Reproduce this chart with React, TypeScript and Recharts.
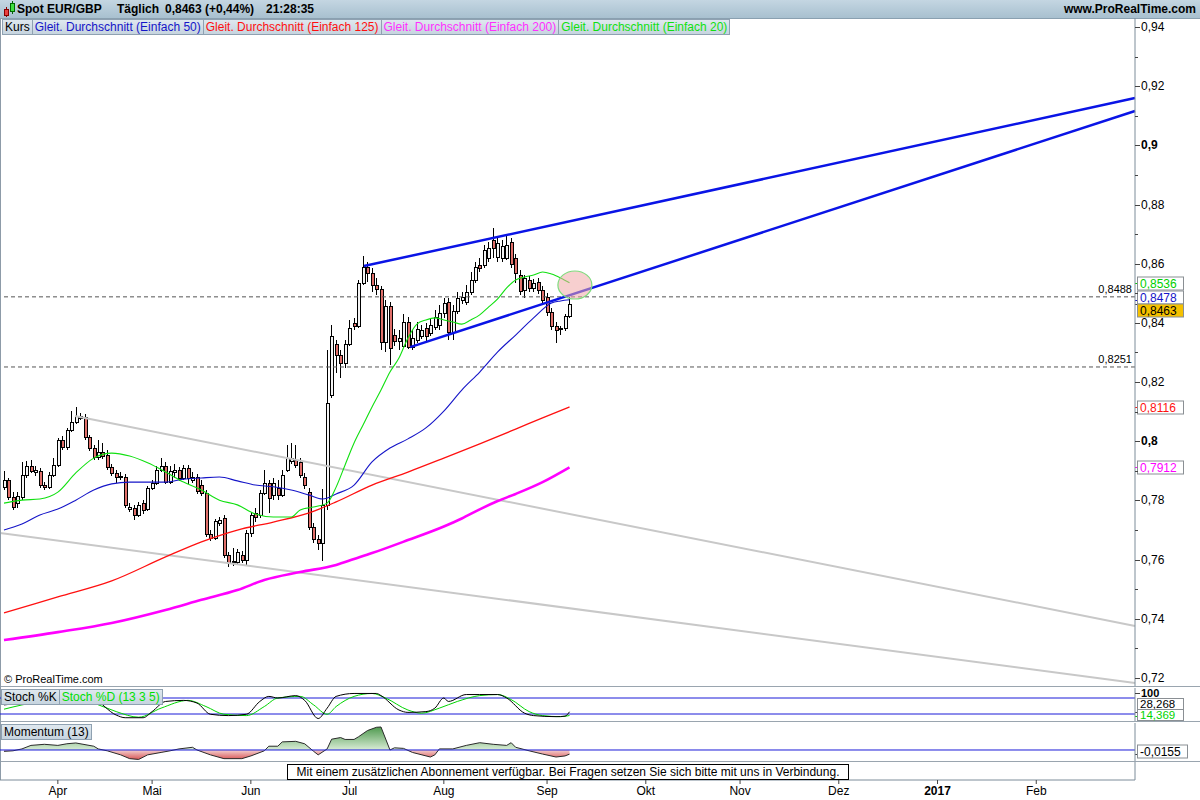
import React from "react";
import {
  Area,
  Bar,
  ComposedChart,
  Line,
  ReferenceDot,
  ReferenceLine,
  XAxis,
  YAxis,
} from "recharts";

// daily candles, index 0 = mid March 2016, index 126 = 8 Sep 2016
const opens = [
  0.7846, 0.7869, 0.7812, 0.779, 0.7812, 0.7886, 0.7917, 0.7897, 0.79, 0.7852,
  0.7846, 0.7886, 0.792, 0.8004, 0.798, 0.8038, 0.8065, 0.8085, 0.8082, 0.8014,
  0.7977, 0.7947, 0.7964, 0.7954, 0.7913, 0.7893, 0.788, 0.788, 0.7771, 0.7775,
  0.7751, 0.7791, 0.7771, 0.7842, 0.7859, 0.7903, 0.7917, 0.7862, 0.7897, 0.7903,
  0.7876, 0.791, 0.7869, 0.788, 0.7852, 0.7825, 0.7687, 0.7673, 0.7724, 0.7741,
  0.7616, 0.7592, 0.7592, 0.7616, 0.7599, 0.769, 0.7758, 0.7751, 0.7825, 0.7859,
  0.7818, 0.7842, 0.7818, 0.7903, 0.7933, 0.7937, 0.793, 0.788, 0.7828, 0.771,
  0.767, 0.7656, 0.7785, 0.8156, 0.8329, 0.8292, 0.8265, 0.8329, 0.84, 0.839,
  0.8535, 0.8589, 0.8569, 0.8528, 0.8515, 0.8335, 0.8457, 0.8359, 0.8339, 0.8322,
  0.8403, 0.8318, 0.8342, 0.8356, 0.8383, 0.8366, 0.8386, 0.8393, 0.8434, 0.8471,
  0.8369, 0.844, 0.8477, 0.8471, 0.8504, 0.8545, 0.8596, 0.8596, 0.8619, 0.868,
  0.8623, 0.8619, 0.8619, 0.8673, 0.8619, 0.8562, 0.8511, 0.8545, 0.8518, 0.8538,
  0.8511, 0.8487, 0.8437, 0.839, 0.8383, 0.8383, 0.8423,
];
const highs = [
  0.79, 0.7876, 0.7829, 0.7829, 0.793, 0.7934, 0.7937, 0.7917, 0.791, 0.7862,
  0.7896, 0.7944, 0.8011, 0.8018, 0.8045, 0.8102, 0.8116, 0.8096, 0.8092, 0.8021,
  0.7987, 0.8004, 0.7994, 0.797, 0.7923, 0.7903, 0.7896, 0.7889, 0.7791, 0.7785,
  0.7795, 0.7801, 0.7849, 0.7869, 0.7917, 0.7944, 0.793, 0.7917, 0.7923, 0.7913,
  0.792, 0.792, 0.7896, 0.7889, 0.7869, 0.7835, 0.77, 0.7737, 0.7744, 0.7751,
  0.7626, 0.7639, 0.7636, 0.7629, 0.77, 0.7761, 0.7774, 0.7835, 0.7903, 0.7869,
  0.7876, 0.7869, 0.7903, 0.7987, 0.7994, 0.7987, 0.7944, 0.7893, 0.7842, 0.7724,
  0.7683, 0.784, 0.831, 0.8393, 0.8342, 0.8308, 0.8342, 0.841, 0.8417, 0.8545,
  0.8626, 0.8606, 0.8586, 0.8552, 0.8525, 0.8477, 0.8471, 0.838, 0.8376, 0.843,
  0.842, 0.8376, 0.8403, 0.8393, 0.84, 0.8417, 0.8444, 0.846, 0.8484, 0.8484,
  0.846, 0.8504, 0.8504, 0.8528, 0.8572, 0.8606, 0.8619, 0.8663, 0.8673, 0.8721,
  0.8687, 0.868, 0.8694, 0.8687, 0.8633, 0.8579, 0.8562, 0.8559, 0.8548, 0.8552,
  0.8525, 0.8501, 0.845, 0.8403, 0.839, 0.843, 0.8488,
];
const lows = [
  0.7835, 0.7801, 0.7768, 0.7775, 0.7801, 0.7876, 0.7893, 0.7883, 0.7842, 0.7835,
  0.7839, 0.7879, 0.7913, 0.797, 0.797, 0.8031, 0.8058, 0.8072, 0.8004, 0.7967,
  0.7937, 0.7937, 0.794, 0.7903, 0.7883, 0.7859, 0.7869, 0.7775, 0.7761, 0.7734,
  0.7744, 0.7754, 0.7764, 0.7835, 0.7852, 0.7896, 0.7856, 0.7856, 0.7876, 0.7866,
  0.7869, 0.7856, 0.7859, 0.7822, 0.7815, 0.7676, 0.7663, 0.7666, 0.7714, 0.7605,
  0.7575, 0.7579, 0.7582, 0.7589, 0.7582, 0.7676, 0.7727, 0.7741, 0.7818, 0.7758,
  0.7801, 0.7801, 0.7812, 0.7896, 0.7923, 0.791, 0.7876, 0.7839, 0.77, 0.7656,
  0.7632, 0.7595, 0.7768, 0.8146, 0.8231, 0.8214, 0.8248, 0.8322, 0.8376, 0.8383,
  0.8528, 0.8538, 0.8504, 0.8494, 0.8308, 0.8302, 0.8258, 0.8322, 0.8308, 0.8315,
  0.8312, 0.8308, 0.8332, 0.8346, 0.8339, 0.8356, 0.8376, 0.8376, 0.8417, 0.8342,
  0.8342, 0.843, 0.8464, 0.846, 0.8494, 0.8535, 0.8572, 0.8586, 0.8606, 0.8619,
  0.8606, 0.8606, 0.8613, 0.8586, 0.8535, 0.8494, 0.8484, 0.8504, 0.8504, 0.8498,
  0.8467, 0.8423, 0.8376, 0.8332, 0.8359, 0.8373, 0.8417,
];
const closes = [
  0.7869, 0.7812, 0.7778, 0.7815, 0.7886, 0.7917, 0.79, 0.7903, 0.7852, 0.7846,
  0.7886, 0.792, 0.8004, 0.798, 0.8038, 0.8065, 0.8085, 0.8079, 0.8014, 0.7977,
  0.7947, 0.7964, 0.795, 0.7913, 0.7893, 0.788, 0.7883, 0.7785, 0.7778, 0.7751,
  0.7785, 0.7768, 0.7842, 0.7859, 0.7903, 0.7917, 0.7862, 0.79, 0.7903, 0.7876,
  0.791, 0.7876, 0.788, 0.7832, 0.7825, 0.7687, 0.7673, 0.773, 0.7734, 0.7616,
  0.7589, 0.7595, 0.7626, 0.7599, 0.769, 0.7751, 0.7744, 0.7825, 0.7859, 0.7808,
  0.7859, 0.7818, 0.7886, 0.7944, 0.7944, 0.792, 0.7886, 0.7852, 0.771, 0.767,
  0.7656, 0.7785, 0.8129, 0.8356, 0.8292, 0.8265, 0.8329, 0.8383, 0.839, 0.8535,
  0.8589, 0.8569, 0.8528, 0.8515, 0.8335, 0.8457, 0.8315, 0.8339, 0.835, 0.8403,
  0.8318, 0.8349, 0.8379, 0.8376, 0.8356, 0.8393, 0.842, 0.8434, 0.8467, 0.8369,
  0.844, 0.8484, 0.8487, 0.8504, 0.8545, 0.8589, 0.8586, 0.8646, 0.8653, 0.8653,
  0.867, 0.866, 0.8663, 0.8599, 0.8569, 0.8508, 0.8552, 0.8518, 0.8535, 0.8511,
  0.8477, 0.8437, 0.839, 0.8376, 0.8378, 0.8423, 0.8463,
];

// moving averages: [bar index, value]
const ma20 = [
  [0, 0.7791], [4, 0.7801], [8, 0.7805], [12, 0.7828], [16, 0.7893], [20, 0.7943],
  [24, 0.796], [28, 0.795], [32, 0.7927], [36, 0.7896], [40, 0.7862], [44, 0.7835],
  [48, 0.7801], [52, 0.7785], [56, 0.7754], [60, 0.7744], [64, 0.7744], [66, 0.7768],
  [70, 0.7781], [72, 0.7791], [74, 0.7845], [76, 0.792], [78, 0.7994], [80, 0.8055],
  [82, 0.8116], [84, 0.8173], [86, 0.8234], [88, 0.8281], [90, 0.8349], [92, 0.8396],
  [94, 0.841], [96, 0.8417], [98, 0.841], [100, 0.8403], [102, 0.8396], [104, 0.841],
  [106, 0.8427], [108, 0.8454], [110, 0.8481], [112, 0.8518], [114, 0.8545],
  [116, 0.8555], [118, 0.8562], [120, 0.8572], [122, 0.8565], [124, 0.8552], [126, 0.8536],
];
const ma50 = [
  [0, 0.77], [4, 0.772], [8, 0.7751], [12, 0.7771], [16, 0.7801], [20, 0.7835],
  [24, 0.7856], [28, 0.7862], [32, 0.7862], [36, 0.7862], [40, 0.7872], [44, 0.7876],
  [48, 0.7879], [52, 0.7866], [56, 0.7852], [60, 0.7846], [64, 0.7835], [68, 0.7818],
  [71, 0.7805], [74, 0.7822], [78, 0.7852], [82, 0.793], [86, 0.7977], [90, 0.8008],
  [94, 0.8045], [98, 0.8102], [102, 0.8173], [106, 0.8234], [110, 0.8302],
  [114, 0.8359], [118, 0.8417], [122, 0.8467], [124, 0.8474], [126, 0.8478],
];
const ma125 = [
  [0, 0.742], [12, 0.7474], [24, 0.7528], [36, 0.7609], [44, 0.766], [52, 0.77],
  [60, 0.7727], [68, 0.7758], [74, 0.7795], [82, 0.7852], [90, 0.7896], [98, 0.7943],
  [106, 0.7991], [114, 0.8041], [120, 0.8079], [126, 0.8116],
];
const ma200 = [
  [0, 0.7328], [12, 0.7355], [24, 0.7386], [36, 0.743], [44, 0.7464], [52, 0.7497],
  [58, 0.7531], [66, 0.7558], [74, 0.7582], [78, 0.7602], [82, 0.7622], [90, 0.7666],
  [98, 0.7712], [102, 0.7739], [106, 0.777], [110, 0.7798], [114, 0.7822],
  [120, 0.7862], [126, 0.7912],
];

const stochK = [
  [0, 54], [4, 62], [9, 76], [14, 84], [17, 80], [20, 74], [25, 16], [27, 6], [31, 6],
  [33, 29], [36, 67], [40, 71], [43, 61], [46, 19], [50, 14], [54, 19], [57, 67],
  [59, 86], [61, 80], [65, 89], [67, 71], [70, 3], [72, 42], [74, 86], [78, 97],
  [83, 97], [84, 89], [88, 35], [90, 26], [94, 29], [96, 42], [98, 80], [99, 67],
  [103, 93], [106, 93], [110, 93], [112, 80], [116, 23], [118, 14], [123, 10],
  [125, 12], [126, 28.27],
];
const stochD = [
  [0, 38], [4, 54], [12, 76], [16, 80], [20, 61], [25, 29], [30, 8], [35, 42],
  [41, 71], [45, 48], [49, 19], [54, 14], [58, 48], [61, 80], [66, 86], [69, 54],
  [72, 19], [74, 48], [78, 86], [82, 97], [85, 80], [90, 35], [93, 23], [97, 42],
  [101, 67], [106, 89], [110, 93], [113, 74], [117, 29], [120, 14], [124, 10], [126, 14.37],
];
const momentum = [
  [0, -0.005], [2, -0.003], [4, 0.004], [6, 0.017], [9, 0.021], [12, 0.017],
  [14, 0.023], [16, 0.026], [20, 0.014], [21, 0.004], [23, -0.003], [26, -0.018],
  [28, -0.032], [30, -0.035], [32, -0.018], [35, -0.009], [37, -0.003], [39, 0.004],
  [42, 0.01], [43, 0], [46, -0.018], [49, -0.032], [53, -0.032], [55, -0.022],
  [58, -0.003], [59, 0.014], [61, 0.014], [62, 0.03], [65, 0.032], [67, 0.023],
  [69, -0.005], [70, -0.018], [72, 0.004], [73, 0.04], [75, 0.046], [76, 0.039],
  [78, 0.039], [79, 0.049], [81, 0.072], [83, 0.084], [84, 0.085], [86, 0],
  [87, 0.008], [89, 0.006], [91, -0.009], [95, -0.026], [96, -0.018], [97, 0.004],
  [100, 0.004], [103, 0.017], [106, 0.027], [109, 0.021], [112, 0.017], [113, 0.027],
  [114, 0.01], [117, -0.003], [120, -0.015], [123, -0.026], [125, -0.022], [126, -0.0155],
];

const monthTicks = [12, 33, 55, 77, 98, 121, 143, 164, 186, 208, 230];
const monthLabels = ["Apr", "Mai", "Jun", "Jul", "Aug", "Sep", "Okt", "Nov", "Dez", "2017", "Feb"];
const priceTicks = [
  0.72, 0.73, 0.74, 0.75, 0.76, 0.77, 0.78, 0.79, 0.8, 0.81, 0.82, 0.83, 0.84,
  0.85, 0.86, 0.87, 0.88, 0.89, 0.9, 0.91, 0.92, 0.93, 0.94,
];

const candles = closes.map((c, i) => ({
  i,
  o: opens[i],
  h: highs[i],
  l: lows[i],
  c,
  range: [lows[i], highs[i]],
}));
const pts = (a: number[][]) => a.map(([i, v]) => ({ i, v }));

const X_DOMAIN = [-0.891, 252];
const AXIS_X = 1135;
const FONT = "'Liberation Sans', Arial, sans-serif";
const comma = (v: number) => String(v).replace(".", ",");

const momMax = Math.max(...momentum.map((m) => m[1]));
const momMin = Math.min(...momentum.map((m) => m[1]));
const zeroOff = momMax / (momMax - momMin);

const Candle = (props: any) => {
  const { x, y, width, height, payload } = props;
  if (height == null || !payload) return null;
  const { o, h, l, c } = payload;
  const span = h - l || 1e-9;
  const py = (v: number) => y + ((h - v) / span) * height;
  const r = Math.round(x + width / 2);
  const top = Math.round(py(Math.max(o, c)));
  const bot = Math.round(py(Math.min(o, c)));
  const up = c >= o;
  return (
    <g>
      <line x1={r + 0.5} x2={r + 0.5} y1={Math.round(y)} y2={Math.round(y + height)} stroke="#000" />
      <rect
        x={r - 0.5}
        y={top + 0.5}
        width={3}
        height={Math.max(bot - top, 1)}
        fill={up ? "#f4f4f4" : "#e06f6a"}
        stroke="#000"
      />
    </g>
  );
};

const PriceTick = ({ y, payload }: any) => {
  const v = payload.value;
  const major = Math.round(v * 100) % 2 === 0;
  const bold = Math.abs(v - 0.9) < 1e-6 || Math.abs(v - 0.8) < 1e-6;
  const yy = Math.round(y) + 0.5;
  return (
    <g>
      <line x1={AXIS_X} x2={AXIS_X + (major ? 5 : 3)} y1={yy} y2={yy} stroke="#444" />
      {major && (
        <text x={AXIS_X + 6} y={y + 4} fontSize={12} fontFamily={FONT} fontWeight={bold ? 700 : 400} fill="#000">
          {comma(+v.toFixed(2))}
        </text>
      )}
    </g>
  );
};

const StochTick = ({ y, payload }: any) => (
  <g>
    <line x1={AXIS_X} x2={AXIS_X + 5} y1={Math.round(y) + 0.5} y2={Math.round(y) + 0.5} stroke="#444" />
    <text x={AXIS_X + 6} y={y + 4} fontSize={11} fontWeight={700} fontFamily={FONT} fill="#000">
      {payload.value}
    </text>
  </g>
);

const ValueTag = ({ viewBox, text, color, bg = "#fff", dy = 0, w = 46, h = 13, fs = 12 }: any) => {
  if (!viewBox) return null;
  const x = viewBox.x + viewBox.width;
  const y0 = Math.round(viewBox.y) + 0.5;
  const y = y0 + dy;
  return (
    <g>
      <line x1={x} x2={x + 3} y1={y0} y2={y0} stroke={color === "#000" ? "#444" : color} />
      <rect x={x + 2.5} y={y - h / 2} width={w} height={h} fill={bg} stroke="#8a8f94" />
      <text x={x + 5} y={y + fs * 0.37} fontSize={fs} fontFamily={FONT} fill={color}>
        {text}
      </text>
    </g>
  );
};

const LevelLabel = ({ viewBox, text }: any) => {
  if (!viewBox) return null;
  return (
    <text x={viewBox.x + viewBox.width - 3} y={viewBox.y - 4} textAnchor="end" fontSize={11} fontFamily={FONT} fill="#000">
      {text}
    </text>
  );
};

const MonthTick = ({ x, y, payload }: any) => {
  const k = monthTicks.indexOf(payload.value);
  return (
    <text x={x} y={y + 9} textAnchor="middle" fontSize={12} fontFamily={FONT} fontWeight={monthLabels[k] === "2017" ? 700 : 400} fill="#000">
      {monthLabels[k]}
    </text>
  );
};

const legendBox: React.CSSProperties = {
  border: "1px solid #8fa1b1",
  background: "linear-gradient(#dfe8ef, #c6d4df)",
  padding: "0 2px",
  height: 14,
  lineHeight: "14px",
  marginRight: -1,
};

const App = () => {
  const noLine = { stroke: "none" };
  return (
    <div style={{ position: "relative", width: 1200, height: 800, fontFamily: FONT, background: "#fff", overflow: "hidden" }}>
      <style>{"body{margin:0}"}</style>

      {/* header bar */}
      <div style={{ position: "absolute", left: 0, top: 0, width: 1200, height: 18, background: "linear-gradient(#c4d6e2, #a8c0cf)", borderBottom: "1px solid #8aa0b0", fontSize: 12, fontWeight: 700, lineHeight: "18px", color: "#000" }}>
        <svg width={14} height={18} style={{ position: "absolute", left: 2, top: 0 }}>
          <line x1={4.5} x2={4.5} y1={7} y2={17} stroke="#800" />
          <rect x={2.5} y={9.5} width={4} height={6} fill="#e84040" stroke="#800" />
          <line x1={10.5} x2={10.5} y1={1} y2={14} stroke="#060" />
          <rect x={8.5} y={3.5} width={4} height={8} fill="#40e040" stroke="#060" />
        </svg>
        <span style={{ position: "absolute", left: 17 }}>Spot EUR/GBP</span>
        <span style={{ position: "absolute", left: 117 }}>Täglich</span>
        <span style={{ position: "absolute", left: 165 }}>0,8463 (+0,44%)</span>
        <span style={{ position: "absolute", left: 266 }}>21:28:35</span>
        <span style={{ position: "absolute", right: 4 }}>www.ProRealTime.com</span>
      </div>

      {/* main price panel */}
      <div style={{ position: "absolute", left: 0, top: 18 }}>
        <ComposedChart width={1200} height={669} data={candles} margin={{ top: 0, right: 0, bottom: 0, left: 0 }}>
          <XAxis dataKey="i" type="number" domain={X_DOMAIN} hide allowDataOverflow />
          <YAxis
            orientation="right"
            width={65}
            domain={[0.71695, 0.94304]}
            ticks={priceTicks}
            interval={0}
            tick={<PriceTick />}
            tickLine={false}
            axisLine={{ stroke: "#7d8c99" }}
            allowDataOverflow
          />
          <ReferenceLine segment={[{ x: 15.8, y: 0.8085 }, { x: 252, y: 0.7376 }]} stroke="#c8c8c8" strokeWidth={2} ifOverflow="visible" />
          <ReferenceLine segment={[{ x: -0.891, y: 0.769 }, { x: 252, y: 0.7183 }]} stroke="#c8c8c8" strokeWidth={2} ifOverflow="visible" />
          <ReferenceLine y={0.8488} stroke="#555" strokeDasharray="4 3" label={<LevelLabel text="0,8488" />} />
          <ReferenceLine y={0.8251} stroke="#555" strokeDasharray="4 3" label={<LevelLabel text="0,8251" />} />
          <Bar dataKey="range" barSize={4} shape={<Candle />} isAnimationActive={false} />
          <Line data={pts(ma200)} dataKey="v" type="monotone" stroke="#ff00ff" strokeWidth={2.6} dot={false} isAnimationActive={false} />
          <Line data={pts(ma125)} dataKey="v" type="monotone" stroke="#ff1010" strokeWidth={1.3} dot={false} isAnimationActive={false} />
          <Line data={pts(ma50)} dataKey="v" type="monotone" stroke="#1515c8" strokeWidth={1.1} dot={false} isAnimationActive={false} />
          <Line data={pts(ma20)} dataKey="v" type="monotone" stroke="#10e010" strokeWidth={1.1} dot={false} isAnimationActive={false} />
          <ReferenceLine segment={[{ x: 80.2, y: 0.8592 }, { x: 252, y: 0.916 }]} stroke="#0a14e6" strokeWidth={2.5} ifOverflow="visible" />
          <ReferenceLine segment={[{ x: 90.5, y: 0.8318 }, { x: 252, y: 0.9116 }]} stroke="#0a14e6" strokeWidth={2.5} ifOverflow="visible" />
          <ReferenceDot
            x={127.2}
            y={0.8528}
            r={16}
            isFront
            shape={(p: any) => (
              <ellipse cx={p.cx} cy={p.cy} rx={17} ry={14} fill="#f0a8a8" fillOpacity={0.55} stroke="#7edc7e" strokeWidth={1.2} />
            )}
          />
          <ReferenceLine y={0.8536} {...noLine} label={<ValueTag text="0,8536" color="#00d000" />} />
          <ReferenceLine y={0.8478} {...noLine} label={<ValueTag text="0,8478" color="#1515c8" dy={-3} />} />
          <ReferenceLine y={0.8463} {...noLine} label={<ValueTag text="0,8463" color="#000" bg="#f5c100" dy={6} />} />
          <ReferenceLine y={0.8116} {...noLine} label={<ValueTag text="0,8116" color="#ff1010" />} />
          <ReferenceLine y={0.7912} {...noLine} label={<ValueTag text="0,7912" color="#ff00ff" />} />
        </ComposedChart>
      </div>

      {/* legend row */}
      <div style={{ position: "absolute", left: 2, top: 19, display: "flex", fontSize: 12 }}>
        <div style={{ ...legendBox, color: "#000" }}>Kurs</div>
        <div style={{ ...legendBox, color: "#1515c8" }}>Gleit. Durchschnitt (Einfach 50)</div>
        <div style={{ ...legendBox, color: "#ff1010" }}>Gleit. Durchschnitt (Einfach 125)</div>
        <div style={{ ...legendBox, color: "#ff30ff" }}>Gleit. Durchschnitt (Einfach 200)</div>
        <div style={{ ...legendBox, color: "#10e010" }}>Gleit. Durchschnitt (Einfach 20)</div>
      </div>
      <div style={{ position: "absolute", left: 4, top: 673, fontSize: 11, color: "#000" }}>© ProRealTime.com</div>

      {/* separators */}
      <div style={{ position: "absolute", left: 0, top: 686, width: 1200, height: 1, background: "#9aa5af" }} />
      <div style={{ position: "absolute", left: 0, top: 721, width: 1200, height: 1, background: "#9aa5af" }} />
      <div style={{ position: "absolute", left: 0, top: 761, width: 1200, height: 1, background: "#9aa5af" }} />
      <div style={{ position: "absolute", left: 0, top: 18, width: 1, height: 762, background: "#8d9ba8" }} />

      {/* stochastic panel */}
      <div style={{ position: "absolute", left: 0, top: 688 }}>
        <ComposedChart width={1200} height={33} margin={{ top: 0, right: 0, bottom: 0, left: 0 }}>
          <XAxis dataKey="i" type="number" domain={X_DOMAIN} hide allowDataOverflow />
          <YAxis
            orientation="right"
            width={65}
            domain={[-6.25, 117.5]}
            ticks={[100]}
            interval={0}
            tick={<StochTick />}
            tickLine={false}
            axisLine={{ stroke: "#7d8c99" }}
            allowDataOverflow
          />
          <ReferenceLine y={80} stroke="#1a1ad8" />
          <ReferenceLine y={20} stroke="#1a1ad8" />
          <Line data={pts(stochD)} dataKey="v" type="monotone" stroke="#00d400" strokeWidth={1} dot={false} isAnimationActive={false} />
          <Line data={pts(stochK)} dataKey="v" type="monotone" stroke="#000" strokeWidth={1} dot={false} isAnimationActive={false} />
          <ReferenceLine y={28.27} {...noLine} label={<ValueTag text="28,268" color="#000" dy={-8.5} h={11} fs={11.5} />} />
          <ReferenceLine y={14.37} {...noLine} label={<ValueTag text="14,369" color="#00d400" dy={-1.5} h={11} fs={11.5} />} />
        </ComposedChart>
      </div>
      <div style={{ position: "absolute", left: 1, top: 689, display: "flex", fontSize: 12 }}>
        <div style={{ ...legendBox, color: "#000" }}>Stoch %K</div>
        <div style={{ ...legendBox, color: "#00e000" }}>Stoch %D (13 3 5)</div>
      </div>

      {/* momentum panel */}
      <div style={{ position: "absolute", left: 0, top: 723 }}>
        <ComposedChart width={1200} height={38} data={pts(momentum)} margin={{ top: 0, right: 0, bottom: 0, left: 0 }}>
          <defs>
            <linearGradient id="momFill" x1="0" y1="0" x2="0" y2="1">
              <stop offset="0" stopColor="#4f9a4f" />
              <stop offset={zeroOff} stopColor="#d9ecd6" />
              <stop offset={zeroOff} stopColor="#f3d0d0" />
              <stop offset="1" stopColor="#d95858" />
            </linearGradient>
          </defs>
          <XAxis dataKey="i" type="number" domain={X_DOMAIN} hide allowDataOverflow />
          <YAxis orientation="right" width={65} domain={[-0.0407, 0.0998]} tick={false} tickLine={false} axisLine={{ stroke: "#7d8c99" }} allowDataOverflow />
          <Area dataKey="v" type="linear" baseValue={0} fill="url(#momFill)" fillOpacity={1} stroke="#2a2a2a" strokeWidth={1} isAnimationActive={false} />
          <ReferenceLine y={0} stroke="#1a1ad8" />
          <ReferenceLine y={-0.0155} {...noLine} label={<ValueTag text="-0,0155" color="#000" dy={-3} w={50} />} />
        </ComposedChart>
      </div>
      <div style={{ position: "absolute", left: 1, top: 724, display: "flex", fontSize: 12 }}>
        <div style={{ ...legendBox, color: "#000" }}>Momentum (13)</div>
      </div>

      {/* time axis */}
      <div style={{ position: "absolute", left: 0, top: 762 }}>
        <ComposedChart width={1200} height={38} data={candles} margin={{ top: 0, right: 0, bottom: 0, left: 0 }}>
          <XAxis
            dataKey="i"
            type="number"
            domain={X_DOMAIN}
            ticks={monthTicks}
            interval={0}
            height={20}
            tick={<MonthTick />}
            tickSize={4}
            tickLine={{ stroke: "#444" }}
            axisLine={{ stroke: "#7d8c99" }}
            allowDataOverflow
          />
          <YAxis orientation="right" width={65} domain={[0, 1]} tick={false} tickLine={false} axisLine={{ stroke: "#7d8c99" }} />
          <Line dataKey="c" stroke="none" dot={false} isAnimationActive={false} />
        </ComposedChart>
      </div>
      <div style={{ position: "absolute", left: 287, top: 764, width: 560, height: 14, border: "1px solid #000", background: "#fff", fontSize: 12, lineHeight: "14px", textAlign: "center", color: "#000" }}>
        Mit einem zusätzlichen Abonnement verfügbar. Bei Fragen setzen Sie sich bitte mit uns in Verbindung.
      </div>
    </div>
  );
};

export default App;
